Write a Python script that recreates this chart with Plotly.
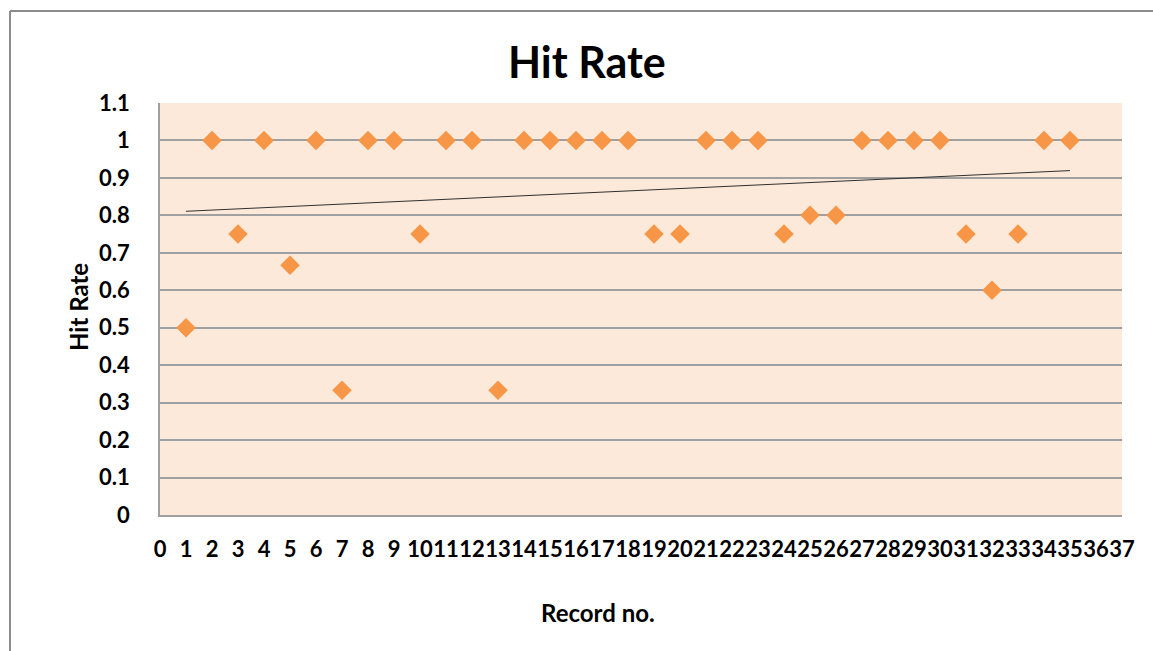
import numpy as np
import plotly.graph_objects as go

record_no = list(range(1, 36))
hit_rate = [0.5, 1, 0.75, 1, 0.667, 1, 0.333, 1, 1, 0.75,
            1, 1, 0.333, 1, 1, 1, 1, 1, 0.75, 0.75,
            1, 1, 1, 0.75, 0.8, 0.8, 1, 1, 1, 1,
            0.75, 0.6, 0.75, 1, 1]
x_ticks = list(range(0, 38))
y_ticks = [0, 0.1, 0.2, 0.3, 0.4, 0.5, 0.6, 0.7, 0.8, 0.9, 1, 1.1]
y_labels = ["0", "0.1", "0.2", "0.3", "0.4", "0.5", "0.6", "0.7", "0.8", "0.9", "1", "1.1"]

# linear trend line fitted to the data
slope, intercept = np.polyfit(record_no, hit_rate, 1)
trend_x = [record_no[0], record_no[-1]]
trend_y = [slope * v + intercept for v in trend_x]

W, H = 1153, 651
L, R, T, B = 160, 1122, 103, 515
FONT = "Lato"

def px(xp):
    return (xp - L) / (R - L)

def py(yp):
    return (B - yp) / (B - T)

fig = go.Figure()
fig.add_trace(go.Scatter(
    x=record_no, y=hit_rate, mode="markers",
    marker=dict(symbol="diamond", size=15, color="#F79646", line=dict(width=0)),
    showlegend=False, hoverinfo="x+y"))
fig.add_trace(go.Scatter(
    x=trend_x, y=trend_y, mode="lines",
    line=dict(color="#303030", width=1), showlegend=False, hoverinfo="skip"))

frame = dict(color="#8C8C8C", width=2)
fig.update_layout(
    width=W, height=H,
    margin=dict(l=L, r=W - R, t=T, b=H - B),
    paper_bgcolor="white", plot_bgcolor="#FDE9D9",
    font=dict(family=FONT, color="black"),
    xaxis=dict(range=[0, 37], tickvals=x_ticks, ticktext=[str(v) for v in x_ticks],
               showgrid=False, zeroline=False, showline=True, linecolor="#A0A0A0", linewidth=1.5,
               ticks="", tickangle=0, tickfont=dict(family=FONT, size=22, weight="bold"),
               ticklabelstandoff=14, fixedrange=True),
    yaxis=dict(range=[0, 1.1], tickvals=y_ticks, ticktext=y_labels,
               showgrid=True, gridcolor="#A0A0A0", gridwidth=1.5, zeroline=False,
               showline=True, linecolor="#A0A0A0", linewidth=1.5,
               ticks="", tickfont=dict(family=FONT, size=22, weight="bold"),
               ticklabelstandoff=24, fixedrange=True),
    shapes=[
        dict(type="line", xref="paper", yref="paper", x0=px(10), x1=px(10),
             y0=py(651), y1=py(11), line=frame, layer="below"),
        dict(type="line", xref="paper", yref="paper", x0=px(10), x1=px(1153),
             y0=py(11), y1=py(11), line=frame, layer="below"),
    ],
    annotations=[
        dict(text="Hit Rate", xref="paper", yref="paper", x=px(587), y=py(62),
             showarrow=False, xanchor="center", yanchor="middle",
             font=dict(family=FONT, size=43, weight="bold")),
        dict(text="Hit Rate", xref="paper", yref="paper", x=px(78), y=py(307),
             showarrow=False, xanchor="center", yanchor="middle", textangle=-90,
             font=dict(family=FONT, size=24, weight="bold")),
        dict(text="Record no.", xref="paper", yref="paper", x=px(598), y=py(612),
             showarrow=False, xanchor="center", yanchor="middle",
             font=dict(family=FONT, size=24, weight="bold")),
    ],
)

fig.write_html(
    "out.html",
    config={"displayModeBar": False},
    post_script=("document.documentElement.style.overflow='hidden';"
                 "document.body.style.margin='0';document.body.style.overflow='hidden';"),
)
